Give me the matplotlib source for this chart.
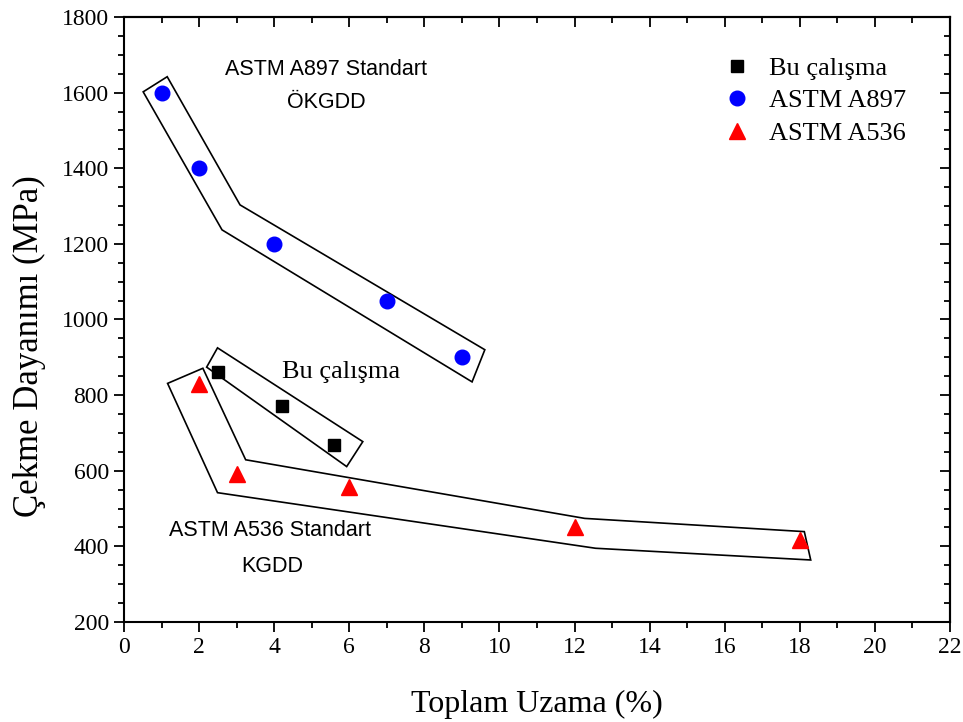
import matplotlib
matplotlib.use("Agg")
import matplotlib.pyplot as plt
from matplotlib.patches import Polygon
from matplotlib.ticker import MultipleLocator

# measured points
BU_X = [2.5, 4.2, 5.6]
BU_Y = [862, 770, 668]
A897_X = [1, 2, 4, 7, 9]
A897_Y = [1600, 1400, 1200, 1050, 900]
A536_X = [2, 3, 6, 12, 18]
A536_Y = [830, 592, 556, 452, 416]

# hand-drawn envelope outlines around each group
A897_ENV = [(0.51, 1602), (1.15, 1642), (3.09, 1303), (9.61, 920),
            (9.27, 835), (2.61, 1237)]
BU_ENV = [(2.49, 925), (6.36, 677), (5.93, 611), (2.20, 874)]
A536_ENV = [(1.16, 831), (2.10, 871), (3.24, 629), (12.27, 474),
            (18.12, 439), (18.29, 364), (12.56, 395), (2.49, 542)]

SERIF = "Liberation Serif"
SANS = "Liberation Sans"

fig = plt.figure(figsize=(9.63, 7.22), dpi=100)
ax = fig.add_axes([0.1288, 0.1385, 0.8577, 0.838])

for env in (A897_ENV, BU_ENV, A536_ENV):
    ax.add_patch(Polygon(env, closed=True, fill=False, edgecolor="black",
                         linewidth=1.2, zorder=2))

ax.plot(BU_X, BU_Y, "s", color="black", markersize=9, linestyle="none",
        label="Bu çalışma", zorder=3)
ax.plot(A897_X, A897_Y, "o", color="#0000FF", markersize=10.5, linestyle="none",
        label="ASTM A897", zorder=3)
ax.plot(A536_X, A536_Y, "^", color="#FF0000", markersize=11.5, linestyle="none",
        label="ASTM A536", zorder=3)

ax.text(5.38, 1660, "ASTM A897 Standart", family=SANS, fontsize=15.5,
        ha="center", va="center")
ax.text(5.38, 1573, "ÖKGDD", family=SANS, fontsize=15.5, ha="center",
        va="center")
ax.text(5.78, 861, "Bu çalışma", family=SERIF, fontsize=19, ha="center",
        va="center")
ax.text(3.89, 441, "ASTM A536 Standart", family=SANS, fontsize=15.5,
        ha="center", va="center")
ax.text(3.95, 348, "KGDD", family=SANS, fontsize=15.5, ha="center",
        va="center")

ax.set_xlim(0, 22)
ax.set_ylim(200, 1800)
ax.xaxis.set_major_locator(MultipleLocator(2))
ax.xaxis.set_minor_locator(MultipleLocator(1))
ax.yaxis.set_major_locator(MultipleLocator(200))
ax.yaxis.set_minor_locator(MultipleLocator(50))
ax.tick_params(which="both", direction="out", width=1.3, labelsize=17)
ax.tick_params(which="major", length=7, pad=4)
ax.tick_params(which="minor", length=4)
for lab in ax.get_xticklabels() + ax.get_yticklabels():
    lab.set_family(SERIF)
for sp in ax.spines.values():
    sp.set_linewidth(1.5)

# mirrored inward ticks on top and right
top = ax.secondary_xaxis("top")
top.xaxis.set_major_locator(MultipleLocator(2))
top.xaxis.set_minor_locator(MultipleLocator(1))
top.tick_params(which="both", direction="in", width=1.3, labeltop=False)
top.tick_params(which="major", length=7)
top.tick_params(which="minor", length=4)
top.spines["top"].set_linewidth(1.5)
right = ax.secondary_yaxis("right")
right.yaxis.set_major_locator(MultipleLocator(200))
right.yaxis.set_minor_locator(MultipleLocator(50))
right.tick_params(which="both", direction="in", width=1.3, labelright=False)
right.tick_params(which="major", length=7)
right.tick_params(which="minor", length=4)
right.spines["right"].set_linewidth(1.5)

ax.set_xlabel("Toplam Uzama (%)", family=SERIF, fontsize=23, labelpad=23)
ax.set_ylabel("Çekme Dayanımı (MPa)", family=SERIF, fontsize=25)
ax.yaxis.set_label_coords(-0.094, 0.456)

ax.legend(loc="upper left", bbox_to_anchor=(0.727, 0.935), frameon=False,
          prop={"family": SERIF, "size": 19}, handletextpad=0.75,
          borderpad=0, borderaxespad=0, labelspacing=0.35, handlelength=0.95)

fig.savefig("out.png", dpi=100)
